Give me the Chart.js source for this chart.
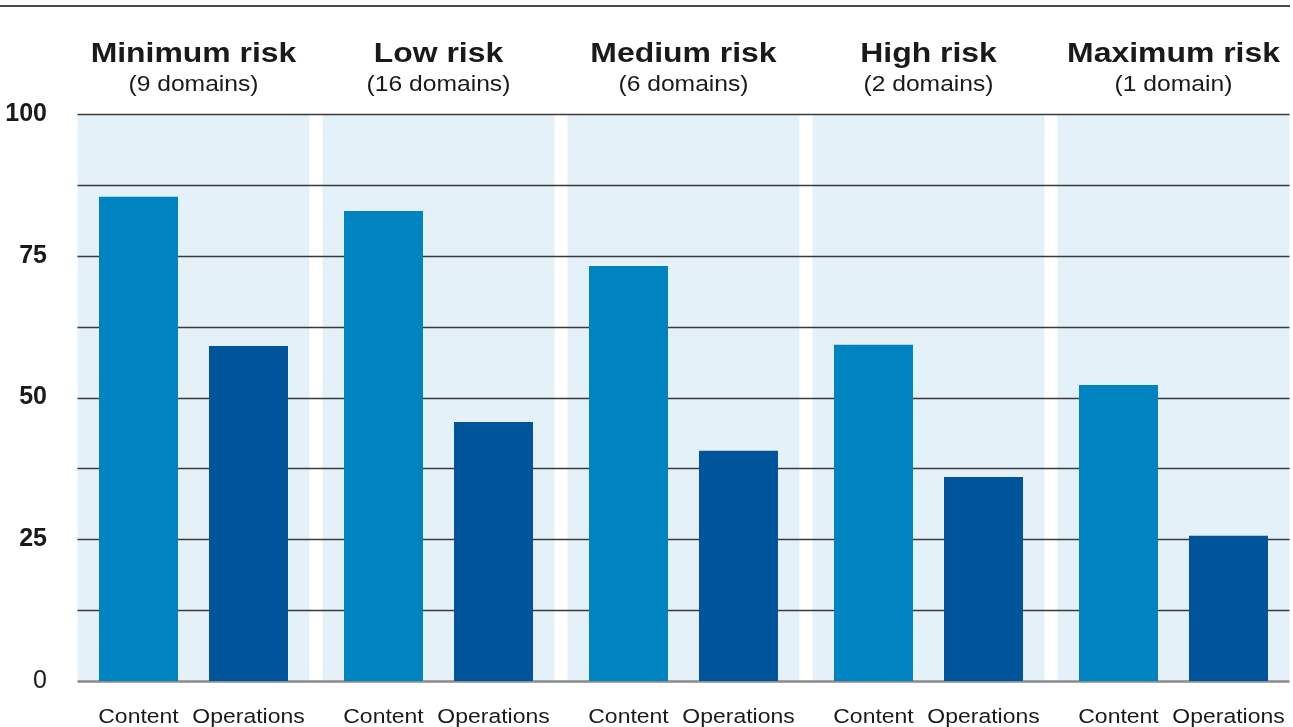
<!DOCTYPE html>
<html>
<head>
<meta charset="utf-8">
<script src="https://cdn.jsdelivr.net/npm/chart.js@4.4.1/dist/chart.umd.min.js"></script>
<style>
  html, body { margin: 0; padding: 0; background: #fff; overflow: hidden; }
  #wrap { position: relative; width: 1300px; height: 727px; }
</style>
</head>
<body>
<div id="wrap"><canvas id="riskChart"></canvas></div>
<script>
// risk groups and their domain counts
const groups = ['Minimum risk', 'Low risk', 'Medium risk', 'High risk', 'Maximum risk'];
const domainCounts = ['(9 domains)', '(16 domains)', '(6 domains)', '(2 domains)', '(1 domain)'];
const seriesNames = ['Content', 'Operations'];
const contentValues = [85.4, 82.9, 73.2, 59.3, 52.2];
const operationsValues = [59.1, 45.7, 40.6, 36.0, 25.6];
const labelledTicks = [0, 25, 50, 75, 100];

const colors = ['#0083c1', '#00549c'];
const panelColor = '#e5f1f8';
const textColor = '#1a1a1a';
const FONT = '"Liberation Sans", Arial, Helvetica, sans-serif';
const STRETCH = 1.12; // reference text is a bit wider than Arial

function wideText(ctx, text, x, y) {
  ctx.save();
  ctx.translate(x, y);
  ctx.scale(STRETCH, 1);
  ctx.fillText(text, 0, 0);
  ctx.restore();
}

const panelsPlugin = {
  id: 'panels',
  beforeDatasetsDraw(chart) {
    const { ctx, scales: { x, y } } = chart;
    const catW = (x.right - x.left) / groups.length;
    const inset = 6.5;
    const left = x.getPixelForValue(0) - catW / 2 + inset;
    const right = x.getPixelForValue(groups.length - 1) + catW / 2 - inset;
    ctx.save();
    // light blue panels with white gaps
    ctx.fillStyle = panelColor;
    groups.forEach((g, i) => {
      const c = x.getPixelForValue(i);
      ctx.fillRect(c - catW / 2 + inset, y.top, catW - 2 * inset, y.bottom - y.top);
    });
    // grid lines every 12.5
    y.ticks.forEach(t => {
      const py = Math.round(y.getPixelForValue(t.value)) + 0.5;
      ctx.beginPath();
      if (t.value === 0) {
        ctx.strokeStyle = '#8a8a8a';
        ctx.lineWidth = 2.5;
      } else {
        ctx.strokeStyle = '#3a3a3a';
        ctx.lineWidth = 1.5;
      }
      ctx.moveTo(left, py);
      ctx.lineTo(right, py);
      ctx.stroke();
    });
    ctx.restore();
  },
  afterDraw(chart) {
    const { ctx, scales: { x } } = chart;
    ctx.save();
    // top rule
    ctx.strokeStyle = '#4a4a4a';
    ctx.lineWidth = 2;
    ctx.beginPath();
    ctx.moveTo(0, 6);
    ctx.lineTo(1290, 6);
    ctx.stroke();

    ctx.fillStyle = textColor;
    ctx.textAlign = 'center';
    ctx.textBaseline = 'alphabetic';
    groups.forEach((g, i) => {
      const c = x.getPixelForValue(i);
      ctx.font = 'bold 28.5px ' + FONT;
      wideText(ctx, g, c, 62);
      ctx.font = '22px ' + FONT;
      wideText(ctx, domainCounts[i], c, 91);
    });

    // series names under each bar
    ctx.font = '20.5px ' + FONT;
    seriesNames.forEach((name, d) => {
      chart.getDatasetMeta(d).data.forEach(bar => {
        wideText(ctx, name, bar.x, 723);
      });
    });
    ctx.restore();
  }
};

const ctx = document.getElementById('riskChart').getContext('2d');
new Chart(ctx, {
  type: 'bar',
  data: {
    labels: groups,
    datasets: [
      {
        label: seriesNames[0],
        data: contentValues,
        backgroundColor: colors[0],
        categoryPercentage: 0.898,
        barPercentage: 0.718
      },
      {
        label: seriesNames[1],
        data: operationsValues,
        backgroundColor: colors[1],
        categoryPercentage: 0.898,
        barPercentage: 0.718
      }
    ]
  },
  options: {
    responsive: true,
    maintainAspectRatio: false,
    animation: false,
    layout: { padding: { top: 114, bottom: 46, left: 0, right: 4 } },
    scales: {
      x: {
        display: false
      },
      y: {
        min: 0,
        max: 100,
        afterFit(scale) { scale.width = 71; },
        grid: { display: false, drawTicks: false },
        border: { display: false },
        ticks: {
          stepSize: 12.5,
          padding: 24,
          color: textColor,
          font: (c) => ({
            family: FONT,
            size: 25,
            weight: c.tick && c.tick.value === 0 ? 'normal' : 'bold'
          }),
          callback: (v) => labelledTicks.includes(v) ? String(v) : ''
        }
      }
    },
    plugins: {
      legend: { display: false },
      tooltip: { enabled: false }
    }
  },
  plugins: [panelsPlugin]
});
</script>
</body>
</html>
